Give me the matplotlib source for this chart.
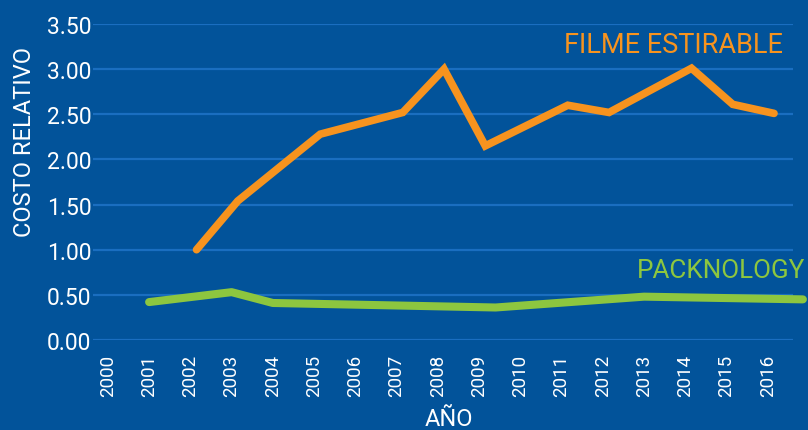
import matplotlib.pyplot as plt
import numpy as np

# datos
anios = list(range(2000, 2017))
filme_anios = [2002, 2003, 2005, 2007, 2008, 2009, 2011, 2012, 2014, 2015, 2016]
filme_costo = [1.00, 1.54, 2.28, 2.52, 3.00, 2.15, 2.60, 2.52, 3.01, 2.61, 2.51]
pack_anios = [2001, 2003, 2004, 2009.4, 2013, 2016.85]
pack_costo = [0.42, 0.53, 0.41, 0.36, 0.48, 0.45]
y_ticks = [0.0, 0.5, 1.0, 1.5, 2.0, 2.5, 3.0, 3.5]

fondo = '#02539A'
rejilla = '#1A6EC0'
naranja = '#F7931E'
verde = '#8DC63F'

plt.rcParams['font.family'] = ['Roboto', 'DejaVu Sans']

fig = plt.figure(figsize=(8.08, 4.31), dpi=100, facecolor=fondo)
ax = fig.add_axes([93 / 808, 90 / 431, 700 / 808, 316 / 431])
ax.set_facecolor(fondo)

# la serie naranja está algo desplazada a la derecha en el original
ax.plot(np.array(filme_anios) + 0.15, filme_costo, color=naranja, lw=5.5,
        solid_capstyle='round', solid_joinstyle='miter', zorder=3)
ax.plot(pack_anios, pack_costo, color=verde, lw=5.8, solid_capstyle='round',
        solid_joinstyle='round', clip_on=False, zorder=3)

ax.set_xlim(1999.64, 2016.61)
ax.set_ylim(0, 3.5)
ax.set_yticks(y_ticks)
ax.set_yticklabels([f'{v:.2f}' for v in y_ticks])
ax.set_xticks(anios)
ax.set_xticklabels([str(a) for a in anios], rotation=90)
ax.grid(axis='y', color=rejilla, lw=1.6, zorder=1)
ax.grid(axis='x', visible=False)
for s in ax.spines.values():
    s.set_visible(False)
ax.tick_params(axis='y', length=0, pad=1, labelsize=16.5, labelcolor='white')
ax.tick_params(axis='x', length=0, pad=10, labelsize=13.5, labelcolor='white')

ax.set_ylabel('COSTO RELATIVO', color='white', fontsize=17)
ax.yaxis.set_label_coords(-0.081, 0.63)
fig.text(449 / 808, 5 / 431, 'AÑO', color='white', fontsize=17,
         ha='center', va='baseline')

ax.text(0.986, 0.911, 'FILME ESTIRABLE', color=naranja, fontsize=19.5,
        ha='right', va='baseline', transform=ax.transAxes)
ax.text(1.017, 0.199, 'PACKNOLOGY', color=verde, fontsize=18.7,
        ha='right', va='baseline', transform=ax.transAxes, clip_on=False)

fig.savefig('out.png', dpi=100, facecolor=fondo)
